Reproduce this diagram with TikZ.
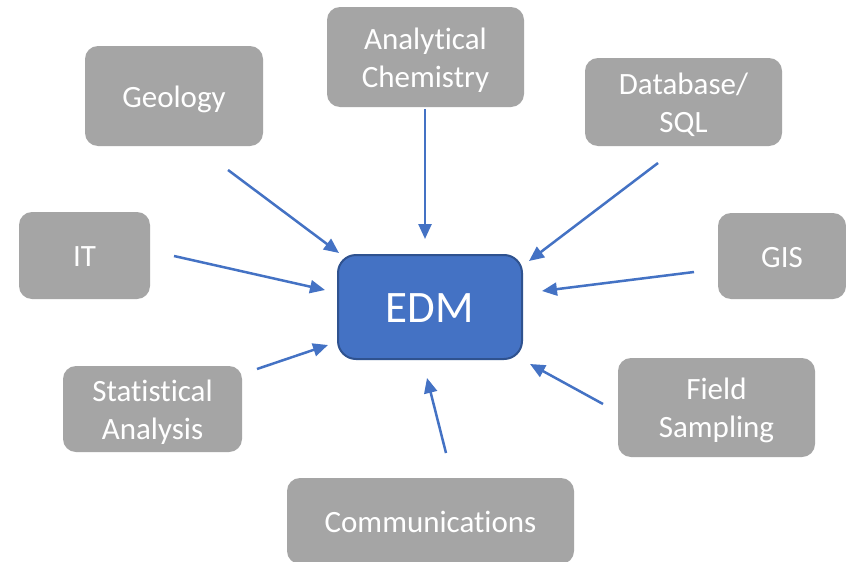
\documentclass[tikz,border=0pt]{standalone}
\usepackage{fontspec}
\setmainfont{Carlito}[Ligatures=NoCommon]
\usetikzlibrary{arrows.meta}
\definecolor{boxgray}{HTML}{A5A5A5}
\definecolor{edmblue}{HTML}{4472C4}
\definecolor{edmborder}{HTML}{2F528F}
\begin{document}
\begin{tikzpicture}[x=1pt,y=-1pt,
  topic/.style={fill=boxgray,draw=none,rounded corners=13pt,text=white,
    font=\fontsize{31}{38}\selectfont,align=center,inner sep=0pt},
  oneline/.style={text height=30pt,text depth=7.5pt},
  twoline/.style={text height=68pt,text depth=7.5pt},
  hub/.style={fill=edmblue,draw=edmborder,line width=2pt,rounded corners=18pt,
    text=white,font=\fontsize{45}{54}\selectfont,inner sep=0pt,
    text height=36pt,text depth=4.6pt},
  feed/.style={draw=edmblue,line width=2.5pt,-{Triangle[length=15pt,width=13pt]}}]
\useasboundingbox (0,0) rectangle (846,562);
\fill[white] (0,0) rectangle (846,562);
% boxes
\node[topic,oneline,minimum width=178pt,minimum height=100pt] (geo) at (174,96) {Geology};
\node[topic,twoline,minimum width=197pt,minimum height=100pt] (chem) at (425.5,57) {Analytical\\Chemistry};
\node[topic,twoline,minimum width=197pt,minimum height=88pt] (db) at (683.5,102) {Database/\\SQL};
\node[topic,oneline,minimum width=131pt,minimum height=87pt] (it) at (84.5,255.5) {IT};
\node[topic,oneline,minimum width=128pt,minimum height=86pt] (gis) at (782,256) {GIS};
\node[hub,minimum width=184pt,minimum height=104pt] (edm) at (430,307) {EDM};
\node[topic,twoline,minimum width=179pt,minimum height=86pt] (stat) at (152.5,409) {Statistical\\Analysis};
\node[topic,twoline,minimum width=197pt,minimum height=99pt] (field) at (716.5,407.5) {Field\\Sampling};
\node[topic,oneline,minimum width=287pt,minimum height=86pt] (comm) at (430.5,521) {Communications};
% arrow ends
\coordinate (geoS) at (228,170);   \coordinate (geoT) at (339,253);
\coordinate (chemS) at (425,109);  \coordinate (chemT) at (425,239);
\coordinate (dbS) at (658,163);    \coordinate (dbT) at (529,261);
\coordinate (itS) at (174,256);    \coordinate (itT) at (325,290);
\coordinate (gisS) at (694,272);   \coordinate (gisT) at (542,291);
\coordinate (statS) at (257,369);  \coordinate (statT) at (328,345);
\coordinate (fieldS) at (603,404); \coordinate (fieldT) at (530,364);
\coordinate (commS) at (446,453);  \coordinate (commT) at (427,378);
\draw[feed] (geoS) -- (geoT);
\draw[feed] (chemS) -- (chemT);
\draw[feed] (dbS) -- (dbT);
\draw[feed] (itS) -- (itT);
\draw[feed] (gisS) -- (gisT);
\draw[feed] (statS) -- (statT);
\draw[feed] (fieldS) -- (fieldT);
\draw[feed] (commS) -- (commT);
\end{tikzpicture}
\end{document}
